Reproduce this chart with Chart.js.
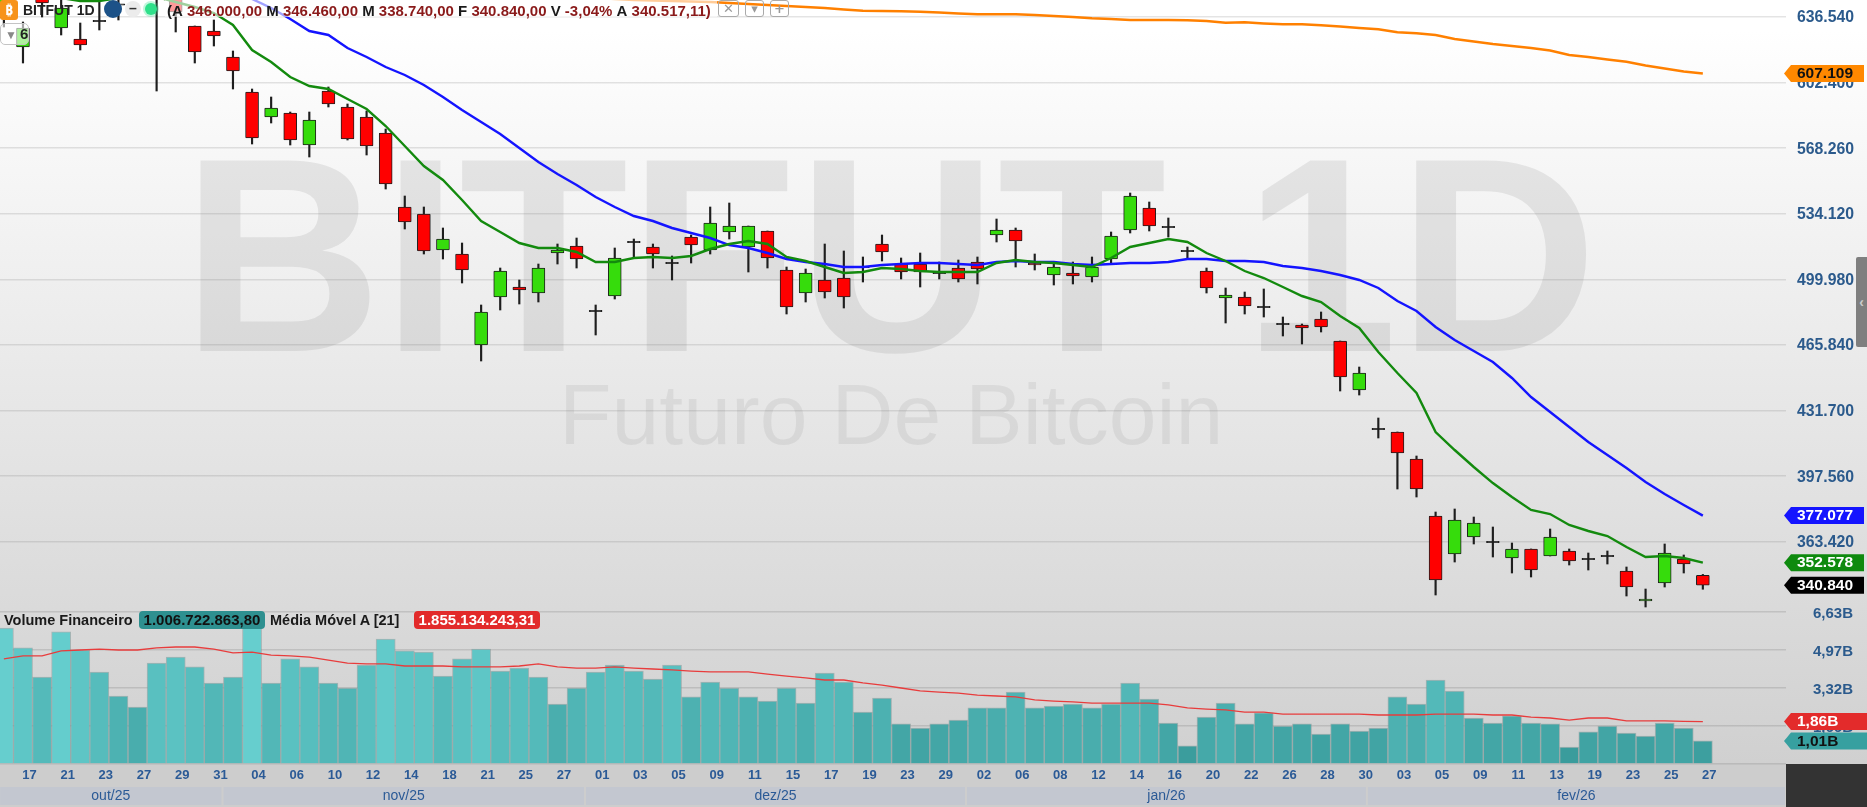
<!DOCTYPE html>
<html lang="pt-BR">
<head>
<meta charset="utf-8">
<title>BITFUT 1D</title>
<script src="https://cdn.jsdelivr.net/npm/chart.js@4/dist/chart.umd.min.js"></script>
<style>
html,body{margin:0;padding:0;width:1867px;height:807px;overflow:hidden;background:#cdcdcd;font-family:"Liberation Sans",Arial,sans-serif}
#bg{position:absolute;left:0;top:0;width:1867px;height:764px;background:linear-gradient(#fff 0,#fff 30px,#d0d0d0 764px)}
.wm{position:absolute;line-height:0;white-space:nowrap;color:rgba(0,0,0,.075)}
#wm1{left:182px;top:255px;font-size:277px;font-weight:bold}
#wm2{left:559px;top:414px;font-size:86px;color:rgba(0,0,0,.06)}
canvas{position:absolute;left:0;top:0}
.ov{position:absolute;white-space:nowrap}
#hdrbg{left:165px;top:0;width:552px;height:17px;background:rgba(255,255,255,.6)}
#logo{left:0;top:0;width:18px;height:20px;border-radius:3px;background:#f7931a;color:#fff;font:bold 14px/20px "Noto Sans","DejaVu Sans",sans-serif;text-align:center}
#name{left:23px;top:2px;font:bold 14px/17px "Liberation Sans",sans-serif;color:#222}
#exch{left:104px;top:0;width:18px;height:18px;border-radius:50%;background:#1c5288}
#minus{left:125px;top:1px;width:16px;height:16px;border-radius:50%;background:#ececec;color:#333;font:bold 14px/15px "Liberation Sans",sans-serif;text-align:center}
#dot{left:145px;top:3px;width:12px;height:12px;border-radius:50%;background:#2fe08a;box-shadow:0 0 0 2px rgba(47,224,138,.3)}
#ohlc{left:167px;top:2px;font:bold 15px/17px "Liberation Sans",sans-serif;color:#8a1a1a}
#ohlc b{color:#1a1a1a}
.btn{top:0;height:17px;box-sizing:border-box;border:1px solid #aaa;border-radius:3px;color:#999;font:bold 13px/15px "DejaVu Sans",sans-serif;text-align:center}
#w6{left:0;top:23px;width:29px;height:22px;box-sizing:border-box;border:1px solid #c4c4c4;border-radius:5px;background:rgba(255,255,255,.6);font:bold 15px/20px "Liberation Sans",sans-serif;color:#222}
#w6 i{font-style:normal;color:#888;font-size:12px;margin:0 3px 0 4px}
#leg{left:4px;top:611px;font:bold 14.5px/18px "Liberation Sans",sans-serif;color:#1a1a1a}
.bdg{position:absolute;top:611px;height:18px;border-radius:4px;font:bold 15px/18px "Liberation Sans",sans-serif;text-align:center;white-space:nowrap}
#tab{left:1856px;top:257px;width:11px;height:90px;background:#7f7f7f;color:#ccc;font:bold 14px/90px "Liberation Sans",sans-serif;text-align:center;border-radius:2px 0 0 2px}
</style>
</head>
<body>
<div id="bg"></div>
<div class="wm" id="wm1">BITFUT 1D</div>
<div class="wm" id="wm2">Futuro De Bitcoin</div>
<canvas id="c" width="1867" height="807"></canvas>
<div class="ov" id="hdrbg"></div>
<div class="ov" id="logo">₿</div>
<div class="ov" id="name">BITFUT 1D</div>
<div class="ov" id="exch"></div>
<div class="ov" id="minus">–</div>
<div class="ov" id="dot"></div>
<div class="ov" id="ohlc"><b>(A</b> 346.000,00 <b>M</b> 346.460,00 <b>M</b> 338.740,00 <b>F</b> 340.840,00 <b>V</b> -3,04% <b>A</b> 340.517,11)</div>
<div class="ov btn" style="left:718px;width:21px">✕</div>
<div class="ov btn" style="left:745px;width:19px">▾</div>
<div class="ov btn" style="left:770px;width:19px">+</div>
<div class="ov" id="w6"><i>▼</i>6</div>
<div class="ov" id="leg">Volume Financeiro</div>
<div class="bdg" style="left:139px;width:126px;background:#2e9090;color:#111">1.006.722.863,80</div>
<div class="ov" style="left:270px;top:611px;font:bold 14.5px/18px 'Liberation Sans',sans-serif;color:#1a1a1a">Média Móvel A [21]</div>
<div class="bdg" style="left:414px;width:126px;background:#e22a2a;color:#fff">1.855.134.243,31</div>
<div class="ov" id="tab">‹</div>
<script>
// price values, in thousands
const opens = [636.02,620.93,648.51,630.82,625.09,634.86,643.46,653.2,647.47,647.99,
631.86,629.26,615.73,597.51,584.5,586.58,569.93,598.03,589.71,584.5,
576.18,537.67,534.03,515.29,513.21,465.85,490.83,496.04,492.91,513.73,
517.37,483.95,491.35,519.85,516.85,508.92,522.05,515.29,524.66,516.85,
525.18,504.88,492.91,499.68,500.72,506.84,518.41,508,508,503.72,
505.92,509.04,523.09,525.7,508.52,502.28,503.32,501.24,510.6,525.7,
537.15,527.66,515.17,504.36,490.31,490.83,486.03,477.18,476.26,479.38,
467.93,442.43,422.53,420.58,406.53,376.86,357.09,365.94,363.74,355.01,
359.7,356.05,358.66,354.88,356.45,348.24,332.63,342,354.48,346];
const closes = [646.95,630.82,643.83,641.23,621.97,634.06,642.66,649.55,651.63,639.15,
618.33,626.66,608.44,573.57,589.19,572.53,582.94,591.27,573.05,569.41,
549.64,529.86,514.77,521.01,504.88,483.03,504.36,494.48,505.92,515.29,
510.6,483.15,511.13,519.05,513.21,508.12,517.89,529.34,527.78,527.78,
511.13,485.63,503.32,493.43,490.83,506.04,514.25,503.84,503.84,502.92,
500.2,505.4,525.7,519.97,507.48,506.44,501.76,506.44,522.57,543.39,
527.78,526.86,514.37,495.52,491.87,486.15,485.23,476.38,474.7,475.22,
449.2,451.28,421.73,409.65,390.91,343.56,374.78,373.22,362.94,359.7,
348.76,365.94,353.44,354.08,355.65,339.91,333.67,357.61,351.88,340.84];
const highs = [649.55,633.94,650.59,647.99,633.42,646.43,646.95,655.8,652.68,649.55,
631.86,634.98,618.85,599.07,594.91,587.1,587.1,600.12,591.27,587.62,
578.26,543.39,537.67,526.74,518.93,486.67,505.92,499.68,508,518.41,
521.53,486.67,516.33,521.01,518.41,512.17,523.09,537.67,539.75,527.78,
525.18,506.44,505.4,518.41,514.77,511.65,523.09,511.13,513.73,509.04,
510.08,511.65,531.42,526.74,513.21,508.52,509.04,511.65,524.66,544.95,
540.27,531.94,516.85,505.92,495.52,493.43,495,480.42,476.78,483.03,
467.93,454.4,427.86,420.58,408.09,378.94,380.51,376.34,371.14,362.82,
359.7,370.1,359.7,357.61,358.66,350.33,338.87,362.3,356.57,346.46];
const lows = [631.34,612.6,636.54,627.18,619.37,629.78,634.98,647.47,598.03,628.74,
612.6,621.45,599.07,570.45,581.38,569.93,563.69,589.71,572.53,564.73,
547.03,526.22,513.21,510.6,498.12,457.53,484.07,487.19,488.23,508,
505.92,471.06,489.79,511.13,505.92,499.68,508.52,513.21,521.01,503.84,
505.92,481.98,488.23,490.31,485.11,498.64,509.56,500.2,496.04,500.2,
498.64,497.6,519.45,506.44,504.88,497.08,497.6,498.64,508.52,524.14,
525.18,522.05,511.13,492.91,477.3,481.98,480.42,470.54,466.37,472.62,
441.91,439.82,417.46,390.91,386.75,335.75,352.92,362.3,355.53,347.2,
345.12,356.05,351.36,348.76,351.88,335.23,329.51,339.91,347.2,338.74];
const maGreen = [650.59,649.55,647.99,646.43,644.87,644.87,646.43,647.47,646.95,644.35,
641.75,638.62,632.38,619.37,613.12,605.32,600.64,599.07,593.87,588.67,
579.82,569.41,559,551.72,541.31,530.38,524.66,518.93,516.33,516.33,
514.25,509.04,509.04,511.13,511.65,511.13,512.17,515.81,518.41,519.97,
518.41,511.65,509.56,506.44,503.32,503.84,505.92,505.4,504.36,503.84,
503.84,503.84,508.52,510.08,509.04,508.52,507.48,506.44,511.13,516.85,
518.93,521.01,519.45,513.73,509.56,504.36,500.72,496.04,491.35,488.23,
480.95,474.7,462.2,451.28,440.87,420.58,411.21,402.36,394,386.75,
380,377.9,372.2,369.06,366.46,360.7,355.53,356.05,355.01,352.578];
const maBlue = [null,null,null,null,null,null,null,null,null,null,
666.2,659.96,652.68,645.91,641.23,635.5,629.26,627.18,620.41,615.73,
610.52,606.36,601.16,594.91,588.15,581.88,575.66,568.37,561.09,554.84,
549.12,542.87,537.67,532.98,530.38,526.74,524.14,521.53,517.89,516.33,
513.73,510.6,509.04,508,506.44,506.44,507.48,508,508.52,508.52,
508,507.48,509.04,509.56,509.04,509.04,508,507.48,508,508.52,
508.52,509.04,510.6,510.6,509.56,509.56,509.04,506.96,505.92,504.36,
502.28,499.68,495.52,488.75,483.55,475.22,468.45,462.73,457,448.68,
438.8,431,423.2,415.37,408.61,401.84,394.57,388.31,382.59,377.077];
const maOrange = [null,null,null,null,null,null,null,null,null,null,
null,null,null,null,null,null,null,null,null,null,
null,null,null,null,null,null,null,null,null,null,
646.95,646.43,645.91,645.39,645.13,644.87,644.61,644.35,643.83,643.31,
642.79,642.27,641.75,641.23,640.45,639.82,639.67,639.51,639.3,638.88,
638.37,637.95,637.95,637.95,637.58,637.06,636.54,635.87,635.5,634.98,
634.98,634.98,634.83,634.46,633.58,633.79,633.16,632.75,632.75,632.22,
631.6,630.82,630.14,628.58,628.06,627.18,625.09,623.79,622.49,621.45,
620.41,619.11,616.77,615.73,614.43,613.28,611.3,609.74,608.18,607.109];
// volume values, in billions
const volume = [5.94,5.07,3.8,5.77,4.98,4.02,2.97,2.49,4.41,4.67,
4.24,3.54,3.8,5.94,3.54,4.59,4.24,3.54,3.32,4.32,
5.46,4.94,4.89,3.84,4.59,5.02,4.06,4.19,3.8,2.62,
3.32,4.02,4.32,4.06,3.71,4.32,2.93,3.58,3.32,2.93,
2.75,3.32,2.66,3.97,3.58,2.27,2.88,1.75,1.57,1.75,
1.92,2.45,2.45,3.14,2.45,2.53,2.62,2.45,2.62,3.54,
2.84,1.79,0.79,2.05,2.66,1.75,2.23,1.66,1.75,1.31,
1.75,1.44,1.57,2.93,2.62,3.67,3.19,2.01,1.79,2.1,
1.79,1.75,0.74,1.4,1.66,1.35,1.22,1.79,1.57,1.006723];
const volumeMA = [4.59,4.72,4.72,4.94,4.98,5.02,4.98,4.98,5.07,5.11,
5.11,5.02,4.85,4.89,4.76,4.72,4.67,4.54,4.41,4.37,
4.37,4.28,4.28,4.28,4.24,4.24,4.24,4.28,4.37,4.24,
4.19,4.19,4.24,4.19,4.15,4.11,4.06,4.02,4.02,4.02,
3.93,3.84,3.76,3.67,3.67,3.54,3.45,3.32,3.19,3.14,
3.1,3.01,2.97,2.93,2.8,2.75,2.71,2.66,2.66,2.66,
2.66,2.58,2.45,2.4,2.36,2.27,2.27,2.18,2.18,2.18,
2.18,2.18,2.14,2.14,2.14,2.18,2.18,2.18,2.14,2.14,
2.05,2.01,1.92,2.01,2.01,1.88,1.88,1.88,1.86,1.855134];
// axis labels
const dayLabels = ["17","21","23","27","29","31","04","06","10","12","14","18","21","25","27","01","03","05","09","11","15","17","19","23","29","02","06","08","12","14","16","20","22","26","28","30","03","05","09","11","13","19","23","25","27"];
const monthLabels = ["out/25","nov/25","dez/25","jan/26","fev/26"];
const monthEdges = [-0.2,11.45,30.44,50.4,71.4,93.36];
const priceTicks = [636.54,602.4,568.26,534.12,499.98,465.84,431.7,397.56,363.42];
const volumeTicks = [6.63,4.97,3.32,1.66,0];

const pts = a => a.map((v, i) => ({x: i, y: v}));
const pairs = (a, b) => a.map((v, i) => ({x: i, y: [v, b[i]]}));
const RED = '#ff0000', GREEN = '#36dc0c', INK = '#1e1e1e';
const bodyColor = ctx => {
  const i = ctx.dataIndex, d = closes[i] - opens[i];
  return Math.abs(d) < 1 ? INK : (d > 0 ? GREEN : RED);
};
const volColor = ctx => {
  const t = Math.min(1, Math.max(0, (volume[ctx.dataIndex] - 0.7) / 5.3));
  const m = (a, b) => Math.round(a + (b - a) * t);
  return `rgb(${m(58,102)},${m(156,207)},${m(156,207)})`;
};
const line = (label, data, color, yAxisID, width, order) => ({
  type: 'line', label, data: pts(data), borderColor: color, borderWidth: width,
  pointRadius: 0, tension: 0, yAxisID, order, spanGaps: false
});
const noPad = s => { s.paddingLeft = 0; s.paddingRight = 0; s.paddingTop = 0; s.paddingBottom = 0; };

const extras = {
  id: 'extras',
  beforeDraw(chart) {
    const {ctx, scales: {x}} = chart;
    ctx.save();
    ctx.font = '14px "Liberation Sans",sans-serif';
    ctx.textAlign = 'center'; ctx.textBaseline = 'middle';
    monthLabels.forEach((m, k) => {
      const a = Math.max(0, x.getPixelForValue(monthEdges[k])) + (k ? 1 : 0);
      const b = Math.min(1786, x.getPixelForValue(monthEdges[k + 1])) - 1;
      ctx.fillStyle = '#c3c7d0';
      ctx.fillRect(a, 787, b - a, 18);
      ctx.fillStyle = '#2b5a96';
      ctx.fillText(m, (a + b) / 2, 796.5);
    });
    ctx.restore();
  },
  afterDraw(chart) {
    const {ctx, scales} = chart;
    ctx.save();
    ctx.fillStyle = '#333';
    ctx.fillRect(1786, 764, 81, 43);
    const tag = (scale, v, text, bg, fg, right) => {
      const y = scale.getPixelForValue(v), h = 17;
      ctx.beginPath();
      ctx.moveTo(1784, y);
      ctx.lineTo(1791, y - h / 2);
      ctx.lineTo(right, y - h / 2);
      ctx.lineTo(right, y + h / 2);
      ctx.lineTo(1791, y + h / 2);
      ctx.closePath();
      ctx.fillStyle = bg; ctx.fill();
      ctx.fillStyle = fg;
      ctx.font = 'bold 15.5px "Liberation Sans",sans-serif';
      ctx.textAlign = 'left'; ctx.textBaseline = 'middle';
      ctx.fillText(text, 1797, y + 0.5);
    };
    const fmt = v => v.toFixed(3);
    const n = opens.length - 1;
    tag(scales.y, maOrange[n], fmt(maOrange[n]), '#ff8800', '#111', 1864);
    tag(scales.y, maBlue[n], fmt(maBlue[n]), '#1414ff', '#fff', 1864);
    tag(scales.y, maGreen[n], fmt(maGreen[n]), '#0e8a0e', '#fff', 1864);
    tag(scales.y, closes[n], fmt(closes[n]), '#000', '#fff', 1864);
    const b = v => v.toFixed(2).replace('.', ',') + 'B';
    tag(scales.yv, volumeMA[n], b(volumeMA[n]), '#e32b2b', '#fff', 1867);
    tag(scales.yv, volume[n], b(volume[n]), '#37a0a0', '#111', 1867);
    ctx.restore();
  }
};

new Chart(document.getElementById('c'), {
  data: {
    datasets: [
      line('Média Móvel A [21]', volumeMA, '#e83c3c', 'yv', 1.3, 1),
      line('MM verde', maGreen, '#138a0e', 'y', 2.4, 2),
      line('MM azul', maBlue, '#1414ff', 'y', 2.4, 2),
      line('MM laranja', maOrange, '#ff8000', 'y', 2.4, 2),
      {type: 'bar', label: 'Corpo', data: pairs(opens, closes), yAxisID: 'y', order: 4, grouped: false,
       barThickness: 13, backgroundColor: bodyColor, borderColor: INK, borderWidth: 1, borderSkipped: false, borderRadius: 1},
      {type: 'bar', label: 'Pavio', data: pairs(lows, highs), yAxisID: 'y', order: 5, grouped: false,
       barThickness: 1.5, backgroundColor: INK, borderWidth: 0},
      {type: 'bar', label: 'Volume Financeiro', data: pts(volume), yAxisID: 'yv', order: 6, grouped: false,
       barThickness: 19.1, backgroundColor: volColor, borderColor: 'rgba(125,150,150,.55)', borderWidth: 1, borderSkipped: 'bottom'}
    ]
  },
  options: {
    responsive: false, animation: false, devicePixelRatio: 1,
    layout: {padding: 0},
    plugins: {legend: {display: false}, tooltip: {enabled: false}},
    scales: {
      x: {
        type: 'linear', position: 'bottom', offset: false, min: -0.204, max: 93.356,
        grid: {display: false, drawTicks: false, offset: false}, border: {display: false},
        afterBuildTicks: s => { s.ticks = dayLabels.map((_, k) => ({value: 1 + 2 * k})); },
        afterFit: s => { s.height = 43; noPad(s); },
        ticks: {autoSkip: false, maxRotation: 0, minRotation: 0, labelOffset: 6.5, padding: 4, color: '#2b5a96',
          font: {family: '"Liberation Sans",sans-serif', size: 13, weight: 'bold'},
          callback: (v, k) => dayLabels[k]}
      },
      y: {
        type: 'linear', position: 'right', stack: 'main', stackWeight: 610, min: 327.95, max: 645.39,
        grid: {color: 'rgba(120,120,120,.2)', lineWidth: 1.5, drawTicks: false}, border: {display: false},
        afterBuildTicks: s => { s.ticks = priceTicks.map(value => ({value})); },
        afterFit: s => { s.width = 81; noPad(s); },
        ticks: {autoSkip: false, padding: 11, labelOffset: 1, color: '#2b5a8c',
          font: {family: '"Liberation Sans",sans-serif', size: 15.8, weight: 'bold'},
          callback: v => v.toFixed(3)}
      },
      yv: {
        type: 'linear', position: 'right', stack: 'main', stackWeight: 154, min: 0, max: 6.727,
        grid: {color: 'rgba(120,120,120,.25)', lineWidth: 1.5, drawTicks: false}, border: {display: false},
        afterBuildTicks: s => { s.ticks = volumeTicks.map(value => ({value})); },
        afterFit: s => { s.width = 81; noPad(s); },
        ticks: {autoSkip: false, padding: 27, labelOffset: 2, color: '#2b5a8c',
          font: {family: '"Liberation Sans",sans-serif', size: 15, weight: 'bold'},
          callback: v => v === 0 ? '' : v.toFixed(2).replace('.', ',') + 'B'}
      }
    }
  },
  plugins: [extras]
});
</script>
</body>
</html>
